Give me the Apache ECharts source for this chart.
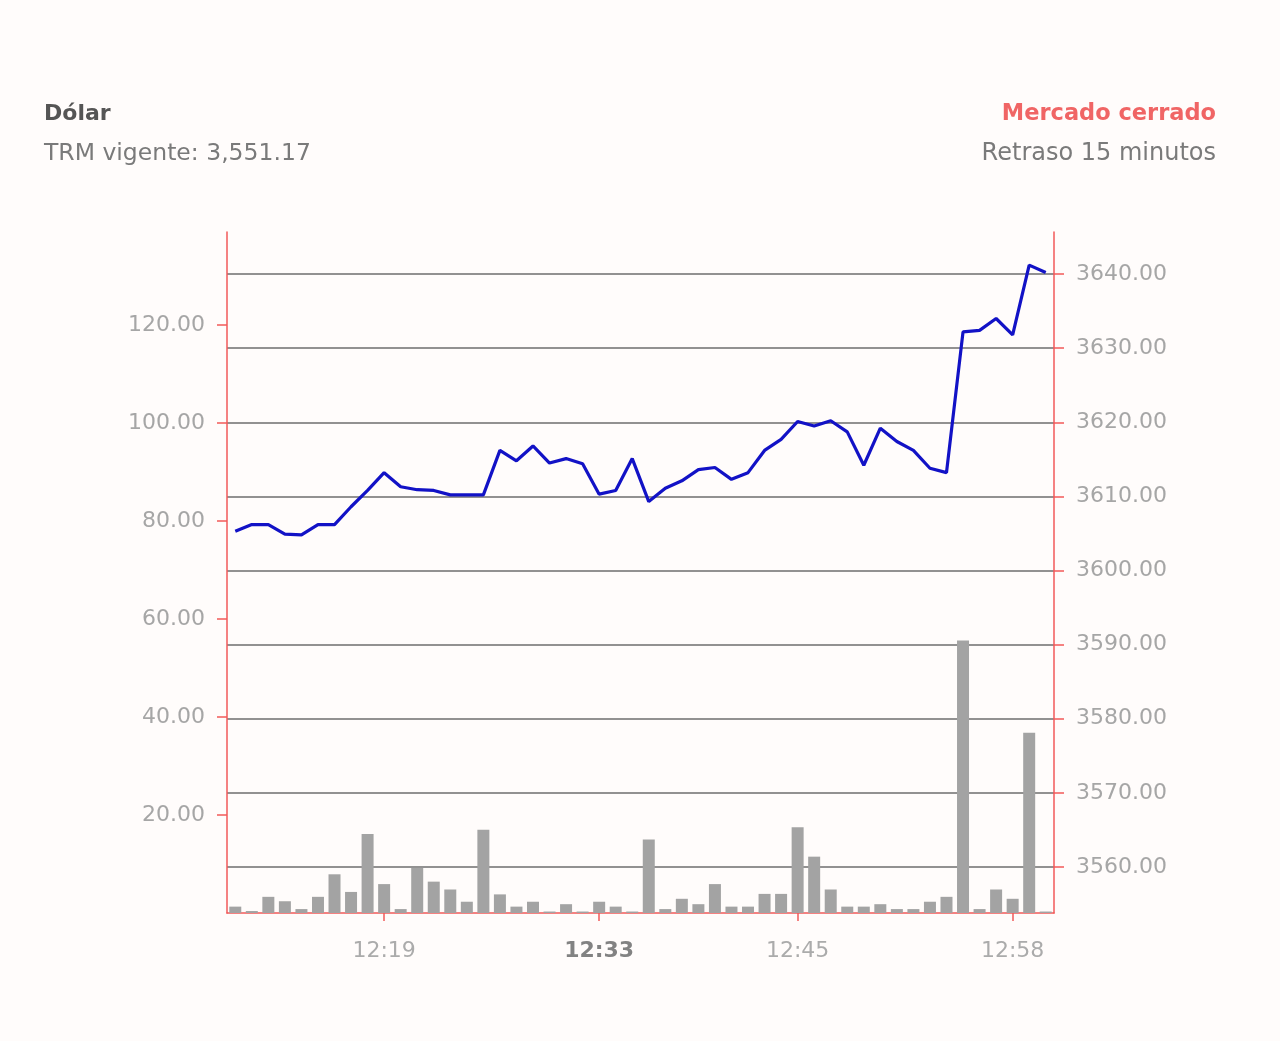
<!DOCTYPE html>
<html>
<head>
<meta charset="utf-8">
<script src="https://cdn.jsdelivr.net/npm/echarts@6/dist/echarts.min.js"></script>
<style>
html,body{margin:0;padding:0;background:#fffcfb;}
#chart{width:1280px;height:1041px;}
</style>
</head>
<body>
<div id="chart"></div>
<script>
// Category labels (minutes)
const categories = [
  '12:10','12:11','12:12','12:13','12:14','12:15','12:16','12:17','12:18','12:19',
  '12:20','12:21','12:22','12:23','12:24','12:25','12:27','12:28','12:29','12:30',
  '12:31','12:32','12:33','12:34','12:35','12:36','12:37','12:38','12:39','12:40',
  '12:41','12:42','12:43','12:44','12:45','12:46','12:47','12:48','12:49','12:50',
  '12:51','12:52','12:53','12:54','12:55','12:56','12:57','12:58','12:59','13:00'
];
// Volume bars (left axis)
const volumes = [
  1.3, 0.4, 3.3, 2.4, 0.8, 3.3, 7.9, 4.3, 16.1, 5.9,
  0.8, 9.2, 6.4, 4.8, 2.3, 17.0, 3.8, 1.3, 2.3, 0.3,
  1.8, 0.3, 2.3, 1.3, 0.3, 15.0, 0.8, 2.9, 1.8, 5.9,
  1.3, 1.3, 3.9, 3.9, 17.5, 11.5, 4.8, 1.3, 1.3, 1.8,
  0.8, 0.8, 2.3, 3.3, 55.6, 0.8, 4.8, 2.9, 36.8, 0.3
];
// Price line (right axis)
const prices = [
  3605.3, 3606.2, 3606.2, 3604.9, 3604.8, 3606.2, 3606.2, 3608.6, 3610.8, 3613.2,
  3611.3, 3610.9, 3610.8, 3610.2, 3610.2, 3610.2, 3616.2, 3614.8, 3616.8, 3614.5,
  3615.1, 3614.4, 3610.3, 3610.8, 3615.1, 3609.3, 3611.1, 3612.1, 3613.6, 3613.9,
  3612.3, 3613.2, 3616.2, 3617.7, 3620.1, 3619.5, 3620.2, 3618.7, 3614.2, 3619.2,
  3617.4, 3616.2, 3613.8, 3613.2, 3632.2, 3632.4, 3634.0, 3631.8, 3641.2, 3640.2
];
const shownTimes = ['12:19', '12:33', '12:45', '12:58'];
const boldTime = '12:33';
const leftTicks = [20, 40, 60, 80, 100, 120];
const rightTicks = [3560, 3570, 3580, 3590, 3600, 3610, 3620, 3630, 3640];

const FONT = 'DejaVu Sans';
const chart = echarts.init(document.getElementById('chart'), null, {renderer: 'canvas'});

const xData = categories.map(c => c === boldTime
  ? {value: c, textStyle: {fontWeight: 'bold', color: '#828282'}}
  : c);
const showIdx = (i) => shownTimes.indexOf(categories[i]) >= 0;

chart.setOption({
  backgroundColor: '#fffcfb',
  animation: false,
  title: [
    {text: 'Dólar', left: 39, top: 98, textStyle: {fontFamily: FONT, fontSize: 22, fontWeight: 'bold', color: '#555555'}},
    {text: 'TRM vigente: 3,551.17', left: 39, top: 137, textStyle: {fontFamily: FONT, fontSize: 23.5, fontWeight: 'normal', color: '#7a7a7a'}},
    {text: 'Mercado cerrado', right: 59, top: 98, textStyle: {fontFamily: FONT, fontSize: 22.5, fontWeight: 'bold', color: '#f06565'}},
    {text: 'Retraso 15 minutos', right: 59, top: 137, textStyle: {fontFamily: FONT, fontSize: 24, fontWeight: 'normal', color: '#7a7a7a'}}
  ],
  grid: {left: 227, right: 226, top: 232, bottom: 128, containLabel: false},
  xAxis: {
    type: 'category',
    data: xData,
    boundaryGap: true,
    axisLine: {lineStyle: {color: '#f25a5a', width: 1.5}},
    axisTick: {show: true, alignWithLabel: true, length: 8, interval: (i) => showIdx(i), lineStyle: {color: '#f25a5a', width: 1.5}},
    axisLabel: {interval: (i) => showIdx(i), margin: 27, fontFamily: FONT, fontSize: 22, color: '#ababab'},
    splitLine: {show: false}
  },
  yAxis: [
    {
      type: 'value', position: 'left', min: 0, max: 139,
      minInterval: 20, maxInterval: 20,
      axisLine: {show: true, lineStyle: {color: '#f25a5a', width: 1.5}},
      axisTick: {show: true, length: 10, customValues: leftTicks, lineStyle: {color: '#f25a5a', width: 1.5}},
      axisLabel: {customValues: leftTicks, margin: 22, fontFamily: FONT, fontSize: 22, color: '#a6a6a6', formatter: v => v.toFixed(2)},
      splitLine: {show: false}
    },
    {
      type: 'value', position: 'right', min: 3553.79, max: 3645.67,
      minInterval: 10, maxInterval: 10,
      axisLine: {show: true, lineStyle: {color: '#f25a5a', width: 1.5}},
      axisTick: {show: true, length: 10, customValues: rightTicks, lineStyle: {color: '#f25a5a', width: 1.5}},
      axisLabel: {customValues: rightTicks, margin: 22, fontFamily: FONT, fontSize: 22, color: '#a6a6a6', formatter: v => v.toFixed(2)},
      splitLine: {show: true, lineStyle: {color: '#6e6e6e', width: 1.6}}
    }
  ],
  series: [
    {
      type: 'bar', yAxisIndex: 0, data: volumes, barWidth: 12,
      itemStyle: {color: '#a3a3a3'}, z: 3
    },
    {
      type: 'line', yAxisIndex: 1, data: prices, showSymbol: false, symbol: 'none',
      lineStyle: {color: '#1212c6', width: 3.2}, z: 4
    }
  ]
});
</script>
</body>
</html>
